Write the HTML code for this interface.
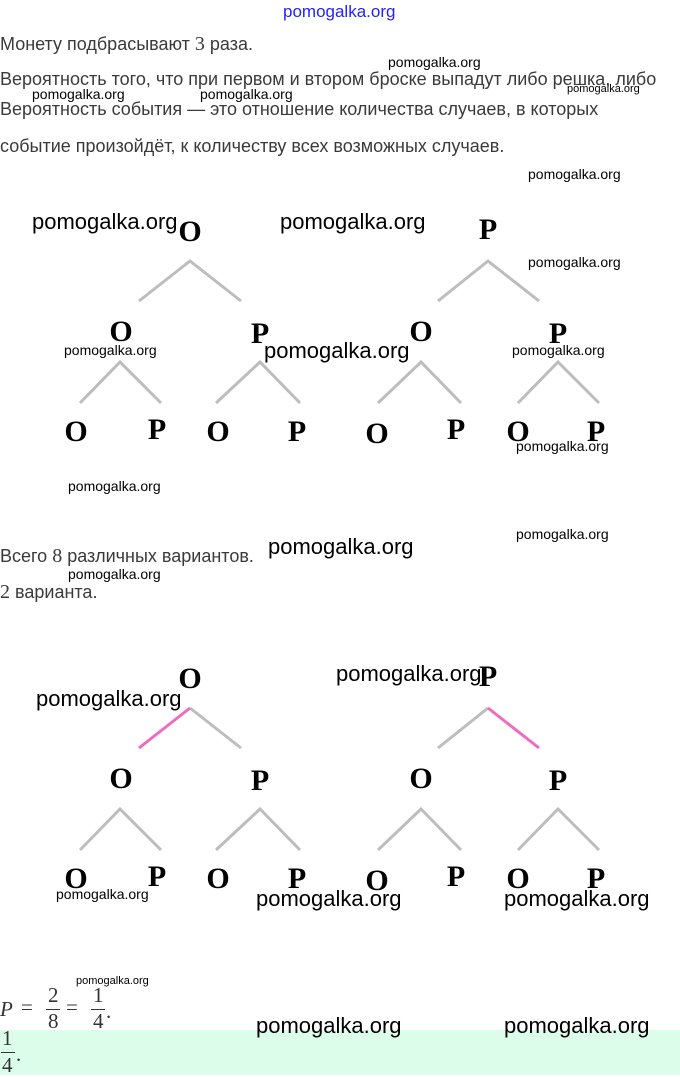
<!DOCTYPE html>
<html><head><meta charset="utf-8"><style>
body{margin:0;width:680px;height:1075px;position:relative;background:#fff;overflow:hidden;font-family:"Liberation Sans",sans-serif;color:#333}
.t{position:absolute;font-size:18px;white-space:nowrap;color:#3a3a3a}
.w{position:absolute;font-family:"Liberation Sans",sans-serif;color:#000;white-space:nowrap}
.s{font-size:14px}.b{font-size:22px}.xs{font-size:11px}
.L{position:absolute;font-family:"Liberation Serif",serif;font-weight:bold;font-size:30px;color:#000;transform:translateX(-50%);line-height:1}
.m{font-family:"Liberation Serif",serif}
svg{position:absolute;left:0;top:0}
</style></head><body>
<div style="position:absolute;left:0;top:1030px;width:680px;height:45px;background:#dcfdea"></div>
<div class="w" style="left:283px;top:2px;font-size:17px;color:#22f;font-weight:normal;">pomogalka.org</div>
<div class="t" style="left:0;top:33px">Монету подбрасывают <span class="m" style="font-size:20px">3</span> раза.</div>
<div class="t" style="left:0;top:69px">Вероятность того, что при первом и втором броске выпадут либо решка, либо</div>
<div class="t" style="left:0;top:99px">Вероятность события — это отношение количества случаев, в которых</div>
<div class="t" style="left:0;top:136px">событие произойдёт, к количеству всех возможных случаев.</div>
<div class="w s" style="left:388px;top:54px">pomogalka.org</div>
<div class="w s" style="left:32px;top:86px">pomogalka.org</div>
<div class="w s" style="left:200px;top:86px">pomogalka.org</div>
<div class="w xs" style="left:567px;top:83px">pomogalka.org</div>
<div class="w s" style="left:528px;top:166px">pomogalka.org</div>

<svg width="680" height="1075" stroke="#bdbdbd" stroke-width="3" fill="none">
<g>
<path d="M139 301L190 261L241 301M438 301L488 261L539 301"/>
<path d="M80 403L120 362L161 403M216 403L260 362L300 403M378 403L421 362L461 403M518 403L558 362L599 403"/>
</g>
<g transform="translate(0,447)">
<path d="M190 261L241 301M438 301L488 261"/>
<path d="M139 301L190 261M488 261L539 301" stroke="#f06bbf"/>
<path d="M80 403L120 362L161 403M216 403L260 362L300 403M378 403L421 362L461 403M518 403L558 362L599 403"/>
</g>
</svg>

<div class="L" style="left:190px;top:217px">O</div>
<div class="L" style="left:488px;top:215px">P</div>
<div class="L" style="left:121px;top:317px">O</div>
<div class="L" style="left:260px;top:319px">P</div>
<div class="L" style="left:421px;top:317px">O</div>
<div class="L" style="left:558px;top:319px">P</div>
<div class="L" style="left:76px;top:417px">O</div>
<div class="L" style="left:157px;top:415px">P</div>
<div class="L" style="left:218px;top:417px">O</div>
<div class="L" style="left:297px;top:417px">P</div>
<div class="L" style="left:377px;top:419px">O</div>
<div class="L" style="left:456px;top:415px">P</div>
<div class="L" style="left:518px;top:417px">O</div>
<div class="L" style="left:596px;top:417px">P</div>

<div class="L" style="left:190px;top:664px">O</div>
<div class="L" style="left:488px;top:662px">P</div>
<div class="L" style="left:121px;top:764px">O</div>
<div class="L" style="left:260px;top:766px">P</div>
<div class="L" style="left:421px;top:764px">O</div>
<div class="L" style="left:558px;top:766px">P</div>
<div class="L" style="left:76px;top:864px">O</div>
<div class="L" style="left:157px;top:862px">P</div>
<div class="L" style="left:218px;top:864px">O</div>
<div class="L" style="left:297px;top:864px">P</div>
<div class="L" style="left:377px;top:866px">O</div>
<div class="L" style="left:456px;top:862px">P</div>
<div class="L" style="left:518px;top:864px">O</div>
<div class="L" style="left:596px;top:864px">P</div>

<div class="w b" style="left:32px;top:209px">pomogalka.org</div>
<div class="w b" style="left:280px;top:209px">pomogalka.org</div>
<div class="w s" style="left:528px;top:254px">pomogalka.org</div>
<div class="w s" style="left:64px;top:342px">pomogalka.org</div>
<div class="w b" style="left:264px;top:338px">pomogalka.org</div>
<div class="w s" style="left:512px;top:342px">pomogalka.org</div>
<div class="w s" style="left:516px;top:438px">pomogalka.org</div>
<div class="w s" style="left:68px;top:478px">pomogalka.org</div>
<div class="w s" style="left:516px;top:526px">pomogalka.org</div>
<div class="w b" style="left:268px;top:534px">pomogalka.org</div>
<div class="t" style="left:0;top:545px">Всего <span class="m" style="font-size:20px">8</span> различных вариантов.</div>
<div class="w s" style="left:68px;top:566px">pomogalka.org</div>
<div class="t" style="left:0;top:581px"><span class="m" style="font-size:20px">2</span> варианта.</div>

<div class="w b" style="left:336px;top:661px">pomogalka.org</div>
<div class="w b" style="left:36px;top:686px">pomogalka.org</div>
<div class="w s" style="left:56px;top:886px">pomogalka.org</div>
<div class="w b" style="left:256px;top:886px">pomogalka.org</div>
<div class="w b" style="left:504px;top:886px">pomogalka.org</div>

<div class="w xs" style="left:76px;top:975px">pomogalka.org</div>
<div class="m" style="position:absolute;left:0;top:985px;font-size:21px;color:#333;line-height:1">
<span style="position:absolute;left:0;top:14px;font-style:italic">P</span>
<span style="position:absolute;left:21px;top:12px">=</span>
<span style="position:absolute;left:48px;top:0">2</span>
<span style="position:absolute;left:46px;top:24px;width:14px;border-top:1px solid #333"></span>
<span style="position:absolute;left:48px;top:26px">8</span>
<span style="position:absolute;left:66px;top:12px">=</span>
<span style="position:absolute;left:93px;top:0">1</span>
<span style="position:absolute;left:91px;top:24px;width:14px;border-top:1px solid #333"></span>
<span style="position:absolute;left:93px;top:26px">4</span>
<span style="position:absolute;left:106px;top:16px">.</span>
</div>
<div class="m" style="position:absolute;left:0;top:1028px;font-size:21px;color:#333;line-height:1">
<span style="position:absolute;left:2px;top:0">1</span>
<span style="position:absolute;left:1px;top:24px;width:14px;border-top:1px solid #333"></span>
<span style="position:absolute;left:2px;top:27px">4</span>
<span style="position:absolute;left:16px;top:16px">.</span>
</div>
<div class="w b" style="left:256px;top:1013px">pomogalka.org</div>
<div class="w b" style="left:504px;top:1013px">pomogalka.org</div>
</body></html>
